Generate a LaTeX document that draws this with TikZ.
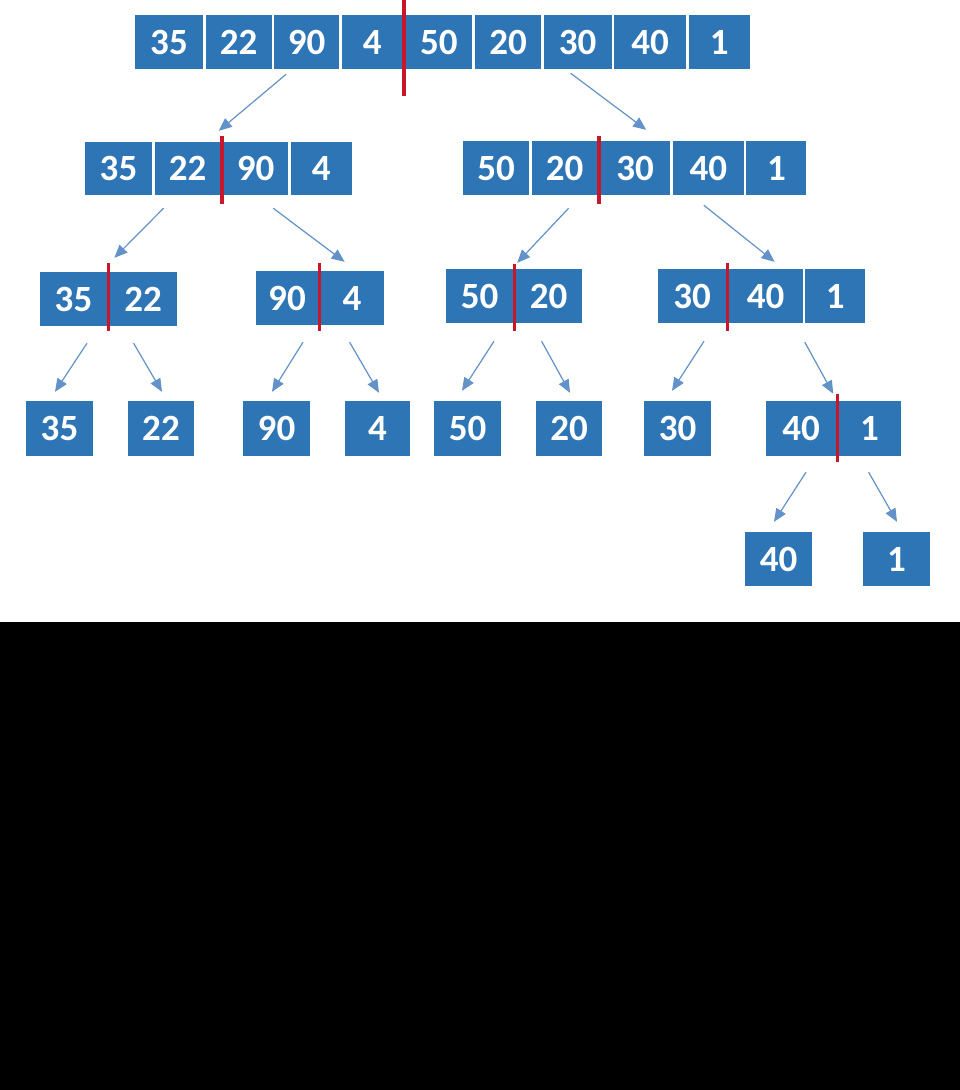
\documentclass[tikz,border=0pt]{standalone}
\usepackage{fontspec}
\setmainfont{Carlito}
\usepackage{tikz}
\usetikzlibrary{shapes,arrows.meta,positioning,calc}
\definecolor{cellblue}{RGB}{46,117,182}
\definecolor{cutred}{RGB}{200,22,42}
\definecolor{linkblue}{RGB}{98,146,200}
\tikzstyle{cell} = [rectangle, fill=cellblue, text=white, font=\fontsize{37}{42}\selectfont\bfseries, inner sep=0pt, minimum height=54pt]
\tikzstyle{link} = [draw=linkblue, line width=1.2pt, -{Triangle[length=13pt,width=11pt,fill=linkblue]}]
\tikzstyle{divider} = [draw=cutred, line width=3.3pt]
\begin{document}
\begin{tikzpicture}[x=1pt, y=-1pt, node distance=2.2pt]
            \fill[white] (0,0) rectangle (960,1090);
            \fill[black] (0,622) rectangle (960,1090);
            \useasboundingbox (0,0) rectangle (960,1090);

            \node[cell, minimum width=68pt] (top_35) at (169,42) {35};
            \node[cell, minimum width=66pt, right=of top_35] (top_22) {22};
            \node[cell, minimum width=65pt, right=of top_22] (top_90) {90};
            \node[cell, minimum width=61pt, right=of top_90] (top_4) {4};
            \node[cell, minimum width=67pt, right=of top_4] (top_50) {50};
            \node[cell, minimum width=66pt, right=of top_50] (top_20) {20};
            \node[cell, minimum width=68pt, right=of top_20] (top_30) {30};
            \node[cell, minimum width=72pt, right=of top_30] (top_40) {40};
            \node[cell, minimum width=61pt, right=of top_40] (top_1) {1};
            \draw[divider] ($(top_4.north east)!0.5!(top_50.north west)$) ++(0,-15) -- ++(0,96);

            \node[cell, minimum width=67pt, minimum height=53pt] (second_35) at (118.5,168.5) {35};
            \node[cell, minimum width=66pt, minimum height=53pt, right=of second_35] (second_22) {22};
            \node[cell, minimum width=65pt, minimum height=53pt, right=of second_22] (second_90) {90};
            \node[cell, minimum width=61pt, minimum height=53pt, right=of second_90] (second_4) {4};
            \draw[divider] ($(second_22.north east)!0.5!(second_90.north west)$) ++(0,-6) -- ++(0,68);
            \path[link] ([xshift=-20.5pt,yshift=-5pt]top_90.south) -- ([xshift=-2pt,yshift=11pt]second_22.north east);

            \node[cell, minimum width=66pt] (second_50) at (496,168) {50};
            \node[cell, minimum width=66pt, right=of second_50] (second_20) {20};
            \node[cell, minimum width=70pt, right=of second_20] (second_30) {30};
            \node[cell, minimum width=71pt, right=of second_30] (second_40) {40};
            \node[cell, minimum width=60pt, right=of second_40] (second_1) {1};
            \draw[divider] ($(second_20.north east)!0.5!(second_30.north west)$) ++(0,-5) -- ++(0,68);
            \path[link] ([xshift=-7pt,yshift=-4pt]top_30.south) -- ([xshift=11pt,yshift=11pt]second_30.north);

            \node[cell, minimum width=67pt] (third_35) at (73.5,299) {35};
            \node[cell, minimum width=67pt, right=of third_35] (third_22) {22};
            \draw[divider] ($(third_35.north east)!0.5!(third_22.north west)$) ++(0,-9) -- ++(0,68);
            \path[link] ([xshift=-24pt,yshift=-13pt]second_22.south) -- ([xshift=5pt,yshift=14pt]third_22.north west);

            \node[cell, minimum width=62pt] (third_90) at (287,298) {90};
            \node[cell, minimum width=63pt, right=of third_90] (third_4) {4};
            \draw[divider] ($(third_90.north east)!0.5!(third_4.north west)$) ++(0,-8) -- ++(0,68);
            \path[link] ([xshift=17.5pt,yshift=-13pt]second_90.south) -- ([xshift=-7.5pt,yshift=9pt]third_4.north);

            \node[cell, minimum width=67pt] (third_50) at (479.5,296) {50};
            \node[cell, minimum width=66pt, right=of third_50] (third_20) {20};
            \draw[divider] ($(third_50.north east)!0.5!(third_20.north west)$) ++(0,-5) -- ++(0,67);
            \path[link] ([xshift=4pt,yshift=-13pt]second_20.south) -- ([xshift=4pt,yshift=6pt]third_50.north east);

            \node[cell, minimum width=68pt] (third_30) at (692,296) {30};
            \node[cell, minimum width=74pt, right=of third_30] (third_40) {40};
            \node[cell, minimum width=60pt, right=of third_40] (third_1) {1};
            \draw[divider] ($(third_30.north east)!0.5!(third_40.north west)$) ++(0,-6) -- ++(0,68);
            \path[link] ([xshift=-4.5pt,yshift=-10pt]second_40.south) -- ([xshift=9pt,yshift=7pt]third_40.north);

            \node[cell, minimum width=67pt, minimum height=55pt] (fourth_35) at (59.5,428.5) {35};
            \node[cell, minimum width=66pt, minimum height=55pt] (fourth_22) at (161,428.5) {22};
            \node[cell, minimum width=67pt, minimum height=55pt] (fourth_90) at (276.5,428.5) {90};
            \node[cell, minimum width=65pt, minimum height=55pt] (fourth_4) at (377.5,428.5) {4};
            \node[cell, minimum width=67pt, minimum height=55pt] (fourth_50) at (467.5,428.5) {50};
            \node[cell, minimum width=66pt, minimum height=55pt] (fourth_20) at (569,428.5) {20};
            \node[cell, minimum width=67pt, minimum height=55pt] (fourth_30) at (677.5,428.5) {30};
            \node[cell, minimum width=70pt, minimum height=55pt] (fourth_40) at (801,428.5) {40};
            \node[cell, minimum width=62pt, minimum height=55pt, right=of fourth_40] (fourth_1) {1};
            \draw[divider] ($(fourth_40.north east)!0.5!(fourth_1.north west)$) ++(0,-7) -- ++(0,68);
            \path[link] ([xshift=13.5pt,yshift=-17pt]third_35.south) -- ([xshift=-4.5pt,yshift=9pt]fourth_35.north);
            \path[link] ([xshift=-9.5pt,yshift=-17pt]third_22.south) -- ([xshift=1pt,yshift=9pt]fourth_22.north);
            \path[link] ([xshift=16pt,yshift=-17pt]third_90.south) -- ([xshift=-4.5pt,yshift=9pt]fourth_90.north);
            \path[link] ([xshift=-2.5pt,yshift=-17pt]third_4.south) -- ([xshift=1.5pt,yshift=8pt]fourth_4.north);
            \path[link] ([xshift=14.5pt,yshift=-18pt]third_50.south) -- ([xshift=-5.5pt,yshift=10pt]fourth_50.north);
            \path[link] ([xshift=-7pt,yshift=-18pt]third_20.south) -- ([xshift=1pt,yshift=8pt]fourth_20.north);
            \path[link] ([xshift=12pt,yshift=-18pt]third_30.south) -- ([xshift=-5.5pt,yshift=10pt]fourth_30.north);
            \path[link] ([xshift=2pt,yshift=-19pt]third_40.south east) -- ([xshift=-3pt,yshift=7pt]fourth_40.north east);

            \node[cell, minimum width=67pt] (fifth_40) at (778.5,559) {40};
            \node[cell, minimum width=67pt] (fifth_1) at (896.5,559) {1};
            \path[link] ([xshift=5pt,yshift=-16pt]fourth_40.south) -- ([xshift=-4.5pt,yshift=10pt]fifth_40.north);
            \path[link] ([xshift=-1pt,yshift=-16pt]fourth_1.south) -- ([xshift=0.5pt,yshift=10pt]fifth_1.north);
\end{tikzpicture}
\end{document}
